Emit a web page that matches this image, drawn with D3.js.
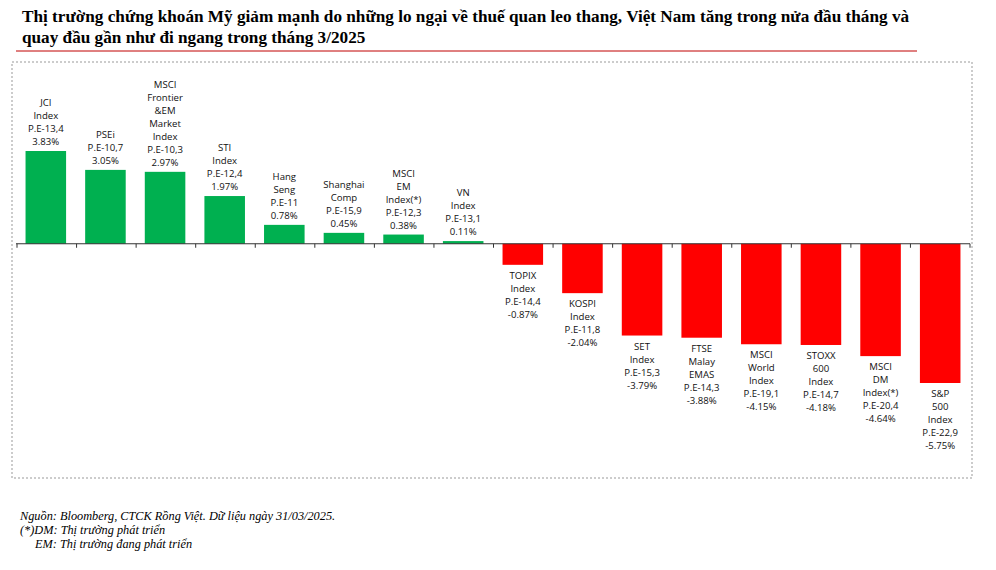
<!DOCTYPE html>
<html><head><meta charset="utf-8">
<script src="https://cdn.jsdelivr.net/npm/d3@7"></script>
<style>body{margin:0;background:#fff}</style>
</head><body><div id="container"></div>
<script>
// data
const names = ["JCI|Index","PSEi","MSCI|Frontier|&EM|Market|Index","STI|Index","Hang|Seng","Shanghai|Comp","MSCI|EM|Index(*)","VN|Index",
  "TOPIX|Index","KOSPI|Index","SET|Index","FTSE|Malay|EMAS","MSCI|World|Index","STOXX|600|Index","MSCI|DM|Index(*)","S&P|500|Index"];
const pe = ["13,4","10,7","10,3","12,4","11","15,9","12,3","13,1","14,4","11,8","15,3","14,3","19,1","14,7","20,4","22,9"];
const changes = [3.83,3.05,2.97,1.97,0.78,0.45,0.38,0.11,-0.87,-2.04,-3.79,-3.88,-4.15,-4.18,-4.64,-5.75];

const width = 996, height = 570;
const svg = d3.select("#container").append("svg").attr("width", width).attr("height", height);

svg.append("text").attr("x", 22).attr("y", 22).attr("font-family", "Liberation Serif").attr("font-weight", "bold")
  .attr("font-size", 17.2).text("Thị trường chứng khoán Mỹ giảm mạnh do những lo ngại về thuế quan leo thang, Việt Nam tăng trong nửa đầu tháng và");
svg.append("text").attr("x", 22).attr("y", 43).attr("font-family", "Liberation Serif").attr("font-weight", "bold")
  .attr("font-size", 17.2).text("quay đầu gần như đi ngang trong tháng 3/2025");
svg.append("line").attr("x1", 16).attr("x2", 917).attr("y1", 51).attr("y2", 51).attr("stroke", "#c00000").attr("stroke-width", 1);
svg.append("rect").attr("x", 12).attr("y", 62).attr("width", 960).attr("height", 416)
  .attr("fill", "none").attr("stroke", "#999").attr("stroke-dasharray", "2,2");

// scales
const x = d3.scaleBand().domain(d3.range(names.length)).range([16, 970]).paddingInner(0.32).paddingOuter(0.16);
const y = d3.scaleLinear().domain([-5.75, 3.83]).range([383, 151]);

svg.selectAll("rect.bar").data(changes).join("rect").attr("class", "bar")
  .attr("x", (d, i) => x(i)).attr("width", x.bandwidth())
  .attr("y", d => Math.min(y(d), y(0))).attr("height", d => Math.abs(y(d) - y(0)))
  .attr("fill", d => d >= 0 ? "#00b050" : "#ff0000");

// axis
svg.append("line").attr("x1", 16).attr("x2", 970).attr("y1", y(0)).attr("y2", y(0)).attr("stroke", "#333");
svg.selectAll("line.tick").data(d3.range(names.length + 1)).join("line").attr("class", "tick")
  .attr("x1", i => 17 + i * (953 / 16)).attr("x2", i => 17 + i * (953 / 16))
  .attr("y1", y(0)).attr("y2", y(0) + 4).attr("stroke", "#333");

// labels
const lh = 13;
changes.forEach((d, i) => {
  const lines = names[i].split("|").concat(["P.E-" + pe[i], d.toFixed(2) + "%"]);
  const cx = x(i) + x.bandwidth() / 2;
  const t = svg.append("text").attr("font-family", "Open Sans").attr("font-size", 9.6).attr("fill", "#111").attr("text-anchor", "middle");
  let y0 = d >= 0 ? y(d) - 6 - (lines.length - 1) * lh : y(d) + 14;
  lines.forEach((l, k) => t.append("tspan").attr("x", cx).attr("y", y0 + k * lh).text(l));
});

// footnote
const foot = [["Nguồn: Bloomberg, CTCK Rồng Việt. Dữ liệu ngày 31/03/2025.", 20], ["(*)DM: Thị trường phát triển", 20], ["EM: Thị trường đang phát triển", 35]];
foot.forEach((f, k) => svg.append("text").attr("x", f[1]).attr("y", 520 + k * 14).attr("font-family", "Liberation Serif")
  .attr("font-style", "italic").attr("font-size", 12.3).text(f[0]));
</script></body></html>
